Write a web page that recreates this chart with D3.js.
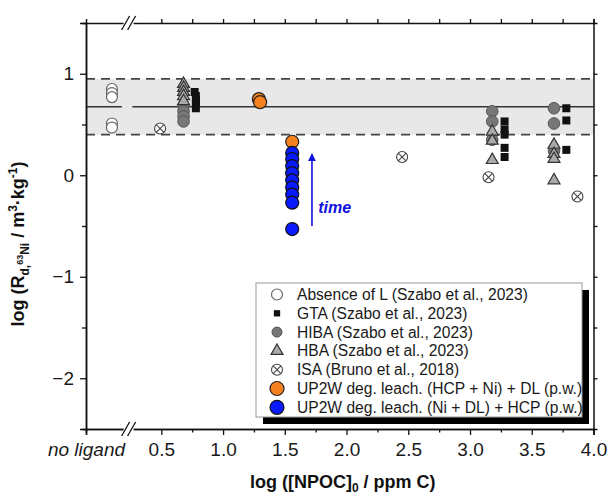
<!DOCTYPE html>
<html><head><meta charset="utf-8">
<script src="https://cdn.jsdelivr.net/npm/d3@7"></script>
<style>body{margin:0;background:#fff}svg{display:block}text{font-family:"Liberation Sans",Arial,sans-serif}</style>
</head><body><svg id="c" width="610" height="498"></svg>
<script>
// ---------- data ----------
const NOLIG = -0.11;               // position of the "no ligand" category on the x axis
const xTickVals = [NOLIG, 0.5, 1.0, 1.5, 2.0, 2.5, 3.0, 3.5, 4.0];
const xTickLabels = ["no ligand", "0.5", "1.0", "1.5", "2.0", "2.5", "3.0", "3.5", "4.0"];
const yTickVals = [-2, -1, 0, 1];
const yTickLabels = ["\u22122", "\u22121", "0", "1"];

const absX = [0.10, 0.10, 0.10, 0.10, 0.10];
const absY = [0.85, 0.81, 0.77, 0.51, 0.47];

const gtaX = [0.77, 0.78, 0.78, 0.78, 0.78, 3.28, 3.28, 3.28, 3.28, 3.28, 3.78, 3.78, 3.78];
const gtaY = [0.82, 0.78, 0.74, 0.70, 0.66, 0.53, 0.45, 0.40, 0.27, 0.18, 0.66, 0.54, 0.25];

const hibaX = [0.68, 0.68, 0.68, 0.68, 3.18, 3.18, 3.18, 3.68, 3.68, 3.68];
const hibaY = [0.68, 0.63, 0.58, 0.53, 0.63, 0.53, 0.35, 0.66, 0.51, 0.24];

const hbaX = [0.68, 0.68, 0.68, 0.68, 0.68, 3.18, 3.18, 3.18, 3.68, 3.68, 3.68, 3.68];
const hbaY = [0.90, 0.86, 0.82, 0.78, 0.73, 0.43, 0.34, 0.15, 0.30, 0.21, 0.16, -0.05];

const isaX = [0.49, 2.45, 3.15, 3.87];
const isaY = [0.46, 0.18, -0.02, -0.21];

const orangeX = [1.29, 1.30, 1.56];
const orangeY = [0.75, 0.72, 0.33];

const blueX = [1.56, 1.56, 1.56, 1.56, 1.56, 1.56, 1.56, 1.56, 1.56];
const blueY = [0.22, 0.16, 0.09, 0.02, -0.05, -0.12, -0.19, -0.27, -0.53];

const bandLow = 0.40, bandHigh = 0.95, bandMean = 0.675;
const BREAK_X = 0.235, GAP_LO = 0.18, GAP_HI = 0.265;
const arrowX = 1.72, arrowY0 = -0.50, arrowY1 = 0.21;
const timeX = 1.77, timeY = -0.32;

const legendLabels = [
  "Absence of L (Szabo et al., 2023)",
  "GTA (Szabo et al., 2023)",
  "HIBA (Szabo et al., 2023)",
  "HBA (Szabo et al., 2023)",
  "ISA (Bruno et al., 2018)",
  "UP2W deg. leach. (HCP + Ni) + DL (p.w.)",
  "UP2W deg. leach. (Ni + DL) + HCP (p.w.)"
];

// ---------- layout ----------
const svg = d3.select("#c");
const L = 86, R = 593.5, T = 23, B = 429;
const x = d3.scaleLinear().domain([NOLIG, 4.0]).range([L, R]);
const y = d3.scaleLinear().domain([-2.5, 1.5]).range([B, T]);
const zip = (a, b) => a.map((v, i) => [v, b[i]]);

// band
svg.append("rect").attr("x", L).attr("y", y(bandHigh)).attr("width", R - L)
  .attr("height", y(bandLow) - y(bandHigh)).attr("fill", "#e8e8e8");
[bandHigh, bandLow].forEach(v => svg.append("line").attr("x1", L).attr("x2", R)
  .attr("y1", y(v)).attr("y2", y(v)).attr("stroke", "#444").attr("stroke-width", 1.6)
  .attr("stroke-dasharray", "9,6"));
[[NOLIG, GAP_LO], [GAP_HI, 4.0]].forEach(s => svg.append("line").attr("x1", x(s[0])).attr("x2", x(s[1]))
  .attr("y1", y(bandMean)).attr("y2", y(bandMean)).attr("stroke", "#333").attr("stroke-width", 1.6));

// ---------- axes ----------
const gB = svg.append("g").attr("transform", `translate(0,${B})`)
  .call(d3.axisBottom(x).tickValues(xTickVals).tickSize(6).tickPadding(8)
    .tickFormat((d, i) => xTickLabels[i]));
gB.selectAll("text").attr("font-size", 19).attr("fill", "#1a1a1a")
  .attr("font-style", (d, i) => i === 0 ? "italic" : "normal");
const gBm = svg.append("g").attr("transform", `translate(0,${B})`)
  .call(d3.axisBottom(x).tickValues(d3.range(0.75, 4.0, 0.5)).tickSize(3.5).tickFormat(""));
const gT = svg.append("g").attr("transform", `translate(0,${T})`)
  .call(d3.axisTop(x).tickValues(d3.range(0.5, 4.01, 0.25)).tickSize(4).tickFormat(""));
const gL = svg.append("g").attr("transform", `translate(${L},0)`)
  .call(d3.axisLeft(y).tickValues(yTickVals).tickSize(6).tickPadding(6)
    .tickFormat((d, i) => yTickLabels[i]));
gL.selectAll("text").attr("font-size", 19).attr("fill", "#1a1a1a");
const gLm = svg.append("g").attr("transform", `translate(${L},0)`)
  .call(d3.axisLeft(y).tickValues([-1.5, -0.5, 0.5]).tickSize(4).tickFormat(""));
const gR = svg.append("g").attr("transform", `translate(${R},0)`)
  .call(d3.axisRight(y).tickValues(d3.range(-2, 1.01, 0.5)).tickSize(4).tickFormat(""));
[gB, gBm, gT, gL, gLm, gR].forEach(g => {
  g.selectAll(".domain").attr("stroke", "#111").attr("stroke-width", 1.5);
  g.selectAll("line").attr("stroke", "#111").attr("stroke-width", 1.3);
});

// axis breaks
[B, T].forEach(yy => {
  const bx = x(BREAK_X);
  svg.append("rect").attr("x", bx - 5).attr("y", yy - 2).attr("width", 10).attr("height", 4).attr("fill", "#fff");
  [-3, 3].forEach(o => svg.append("line").attr("x1", bx + o - 4).attr("y1", yy + 7)
    .attr("x2", bx + o + 4).attr("y2", yy - 7).attr("stroke", "#111").attr("stroke-width", 1.3));
});

// axis titles
const yt = svg.append("text").attr("transform", `translate(24,${(T + B) / 2 + 18}) rotate(-90)`)
  .attr("text-anchor", "middle").attr("font-weight", "bold").attr("font-size", 18).attr("fill", "#111");
yt.append("tspan").text("log (R");
yt.append("tspan").attr("font-size", 12).attr("dy", 5).text("d,");
yt.append("tspan").attr("font-size", 9).attr("dy", -6).text("63");
yt.append("tspan").attr("font-size", 12).attr("dy", 6).text("Ni");
yt.append("tspan").attr("dy", -5).text(" / m");
yt.append("tspan").attr("font-size", 12).attr("dy", -7).text("3");
yt.append("tspan").attr("dy", 7).text("\u00b7kg");
yt.append("tspan").attr("font-size", 12).attr("dy", -7).text("-1");
yt.append("tspan").attr("dy", 7).text(")");

const xt = svg.append("text").attr("x", (L + R) / 2 + 3).attr("y", 488)
  .attr("text-anchor", "middle").attr("font-weight", "bold").attr("font-size", 18).attr("fill", "#111");
xt.append("tspan").text("log ([NPOC]");
xt.append("tspan").attr("font-size", 12).attr("dy", 4).text("0");
xt.append("tspan").attr("dy", -4).text(" / ppm C)");

// ---------- markers ----------
const sym = {
  abs: (g) => g.append("circle").attr("r", 5.5).attr("fill", "#fff").attr("stroke", "#666").attr("stroke-width", 1.2),
  gta: (g) => g.append("path").attr("d", d3.symbol(d3.symbolSquare, 64)()).attr("fill", "#111"),
  hiba: (g) => g.append("circle").attr("r", 5.8).attr("fill", "#777").attr("stroke", "#555").attr("stroke-width", 1),
  hba: (g) => g.append("path").attr("d", d3.symbol(d3.symbolTriangle, 62)()).attr("fill", "#aaa").attr("stroke", "#333").attr("stroke-width", 1.2),
  isa: (g) => {
    g.append("circle").attr("r", 5.5).attr("fill", "#fff").attr("stroke", "#444").attr("stroke-width", 1.1);
    g.append("path").attr("d", "M-3.9,-3.9L3.9,3.9M-3.9,3.9L3.9,-3.9").attr("stroke", "#444").attr("stroke-width", 1.1);
  },
  orange: (g) => g.append("circle").attr("r", 6.5).attr("fill", "#f5821f").attr("stroke", "#222").attr("stroke-width", 1.2),
  blue: (g) => g.append("circle").attr("r", 6.5).attr("fill", "#0a1aff").attr("stroke", "#111").attr("stroke-width", 1.2)
};
function plot(xs, ys, key) {
  zip(xs, ys).forEach(p => {
    const g = svg.append("g").attr("transform", `translate(${x(p[0])},${y(p[1])})`);
    sym[key](g);
  });
}
plot(absX, absY, "abs");
plot(hibaX, hibaY, "hiba");
plot(hbaX, hbaY, "hba");
plot(gtaX, gtaY, "gta");
plot(isaX, isaY, "isa");
plot(orangeX, orangeY, "orange");
plot(blueX, blueY, "blue");

// time arrow
const defs = svg.append("defs");
defs.append("marker").attr("id", "ah").attr("viewBox", "0 0 10 10").attr("refX", 9).attr("refY", 5)
  .attr("markerWidth", 5).attr("markerHeight", 6).attr("orient", "auto")
  .append("path").attr("d", "M0,0L10,5L0,10Z").attr("fill", "#1010e0");
svg.append("line").attr("x1", x(arrowX)).attr("x2", x(arrowX)).attr("y1", y(arrowY0)).attr("y2", y(arrowY1))
  .attr("stroke", "#1010e0").attr("stroke-width", 1.6).attr("marker-end", "url(#ah)");
svg.append("text").attr("x", x(timeX)).attr("y", y(timeY)).attr("dy", "0.35em")
  .attr("font-size", 16).attr("font-weight", "bold").attr("font-style", "italic").attr("fill", "#1010e0").text("time");

// ---------- legend ----------
const lx = 256, ly = 283, lw = 326, lh = 134;
svg.append("rect").attr("x", lx + 7).attr("y", ly + 7).attr("width", lw).attr("height", lh).attr("fill", "#000");
svg.append("rect").attr("x", lx).attr("y", ly).attr("width", lw).attr("height", lh).attr("fill", "#fff")
  .attr("stroke", "#999").attr("stroke-width", 1);
const keys = ["abs", "gta", "hiba", "hba", "isa", "orange", "blue"];
legendLabels.forEach((t, i) => {
  const ry = ly + 11.5 + i * 18.8;
  const g = svg.append("g").attr("transform", `translate(${lx + 21},${ry})`);
  const k = keys[i];
  if (k === "gta") g.append("path").attr("d", d3.symbol(d3.symbolSquare, 40)()).attr("fill", "#111");
  else if (k === "hiba") g.append("circle").attr("r", 5).attr("fill", "#777").attr("stroke", "#555");
  else sym[k](g);
  if (k === "orange" || k === "blue") g.select("circle").attr("r", 7);
  svg.append("text").attr("x", lx + 41).attr("y", ry).attr("dy", "0.35em")
    .attr("font-size", 15.6).attr("fill", "#1a1a1a").text(t);
});
</script></body></html>
